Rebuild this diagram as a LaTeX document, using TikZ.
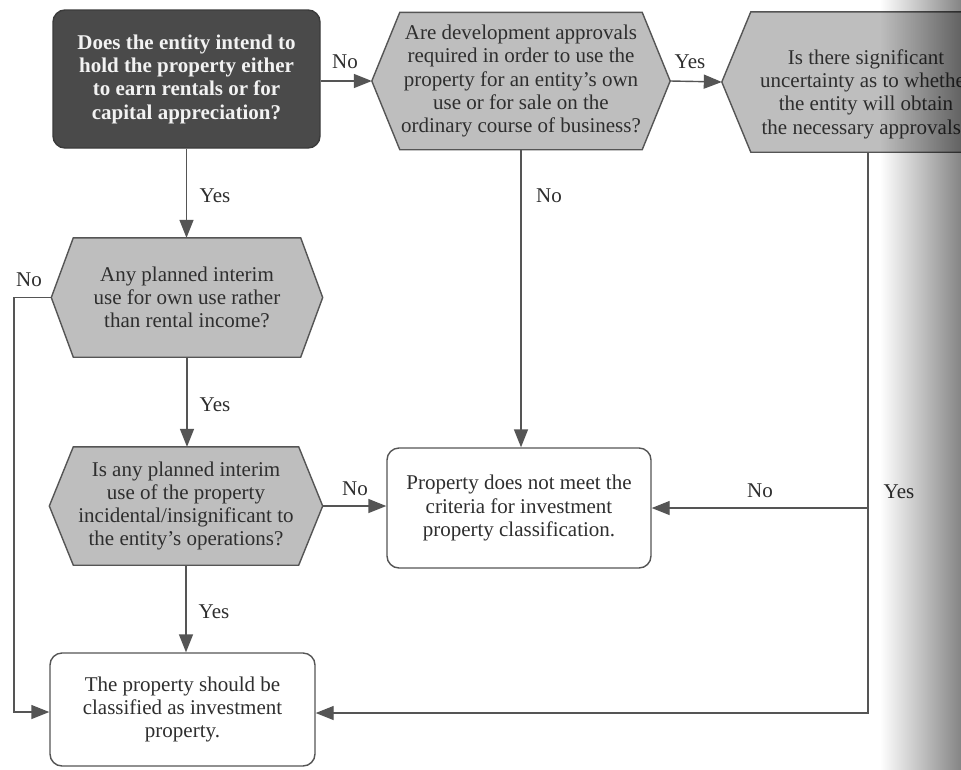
\documentclass[tikz,border=0pt]{standalone}
\usepackage{fontspec}
\setmainfont{Liberation Serif}
\usetikzlibrary{arrows.meta,backgrounds,calc}
\definecolor{linec}{HTML}{555555}
\definecolor{hexfill}{HTML}{BEBEBE}
\definecolor{darkfill}{HTML}{4A4A4A}
\definecolor{txt}{HTML}{2E2E2E}
\newcommand\fsz{\fontsize{21}{23.3}\selectfont}
\newcommand\hexoutline[2]{%
  \filldraw[fill=hexfill, draw=linec, line width=1.4pt, line join=miter]
    (#1.west) -- ([xshift=#2]#1.north west) -- ([xshift=-#2]#1.north east)
    -- (#1.east) -- ([xshift=-#2]#1.south east) -- ([xshift=#2]#1.south west) -- cycle;}
\tikzset{
  flow/.style={draw=linec, line width=1.4pt},
  arr/.style={flow, -{Triangle[length=18pt,width=14pt]}},
  hexnode/.style={inner sep=0pt, text=txt, align=center, font=\fsz},
  box/.style={draw=linec, line width=1.4pt, rounded corners=12pt, fill=white,
    align=center, font=\fsz, text=txt, inner sep=0pt},
  darkbox/.style={box, fill=darkfill, draw=darkfill!80!black, text=white!95!black,
    font=\fsz\bfseries},
  lab/.style={font=\fsz, text=txt, inner sep=0pt},
}
\begin{document}
\begin{tikzpicture}[x=1pt, y=-1pt]
\useasboundingbox (0,0) rectangle (961,769);
\clip (0,0) rectangle (961,769);

% nodes
\node[darkbox, minimum width=267pt, minimum height=138pt] (b1) at (186.5,79)
  {Does the entity intend to\\hold the property either\\to earn rentals or for\\capital appreciation?};
\node[hexnode, minimum width=298pt, minimum height=137pt] (h2) at (521,81)
  {Are development approvals\\required in order to use the\\property for an entity’s own\\use or for sale on the\\ordinary course of business?};
\node[hexnode, minimum width=292pt, minimum height=140pt] (h3) at (868,82) {};
\node[hexnode] (h3t) at (866,94)
  {Is there significant\\uncertainty as to whether\\the entity will obtain\\the necessary approvals?};
\node[hexnode, minimum width=271pt, minimum height=119pt] (h4) at (187,297.5)
  {Any planned interim\\use for own use rather\\than rental income?};
\node[hexnode, minimum width=273pt, minimum height=118pt] (h5) at (186,506)
  {Is any planned interim\\use of the property\\incidental/insignificant to\\the entity’s operations?};
\node[box, minimum width=264pt, minimum height=120pt] (b6) at (519,508)
  {Property does not meet the\\criteria for investment\\property classification.};
\node[box, minimum width=265pt, minimum height=113pt] (b7) at (182.5,709.5)
  {The property should be\\classified as investment\\property.};

\coordinate (lc) at (14,712);
\coordinate (rc) at (868,713);

% background: page and hexagons
\begin{scope}[on background layer]
  \fill[white] (0,0) rectangle (961,769);
  \hexoutline{h2}{28}
  \hexoutline{h3}{29}
  \hexoutline{h4}{22}
  \hexoutline{h5}{24}
\end{scope}

% connectors
\draw[arr] (b1.east |- h2.west) -- (h2.west);
\draw[arr] (h2.east) -- (h3.west);
\draw[arr] (b1.south) -- (b1.south |- h4.north);
\draw[arr] (h2.south) -- (h2.south |- b6.north);
\draw[arr] (h4.south) -- (h4.south |- h5.north);
\draw[arr] (h5.east) -- (h5.east -| b6.west);
\draw[arr] (h5.south) -- (h5.south |- b7.north);
\draw[arr] (h4.west) -| (lc) -- (b7.west |- lc);
\draw[arr] (h3.south) -- (rc) -- (b7.east |- rc);
\draw[arr] (h3.south |- b6.east) -- (b6.east);

% labels
\node[lab] (l1) at (345,62) {No};
\node[lab] (l2) at (690,62) {Yes};
\node[lab] (l3) at (215,196) {Yes};
\node[lab] (l4) at (549,196) {No};
\node[lab] (l5) at (29,280) {No};
\node[lab] (l6) at (215,405) {Yes};
\node[lab] (l7) at (355,489) {No};
\node[lab] (l8) at (760,491) {No};
\node[lab] (l9) at (899,492) {Yes};
\node[lab] (l10) at (214,612) {Yes};

% page curl shadow at the right edge
\begin{scope}[blend mode=multiply]
  \shade[left color=white, middle color=black!10, right color=black!48]
    (880,0) rectangle (961,769);
\end{scope}
\end{tikzpicture}
\end{document}
